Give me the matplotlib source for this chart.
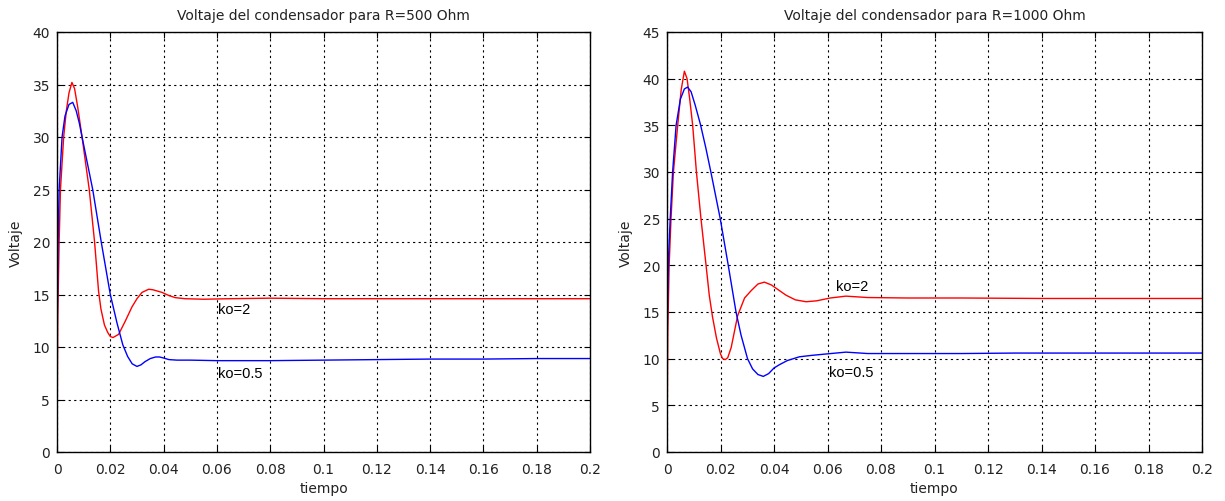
import matplotlib
matplotlib.use("Agg")
import matplotlib.pyplot as plt

# R = 500 Ohm, ko = 2 (red)
t_500_ko2 = [0, 0.0003, 0.0008, 0.0013, 0.0025, 0.0035, 0.0045, 0.0056, 0.0066, 0.0078,
             0.0094, 0.0108, 0.0121, 0.0131, 0.0141, 0.0149, 0.0156, 0.0165, 0.0178, 0.0190,
             0.0200, 0.0210, 0.0231, 0.0255, 0.0281, 0.0300, 0.0319, 0.0344, 0.0360, 0.0394,
             0.0420, 0.0444, 0.0480, 0.0550, 0.0650, 0.08, 0.1, 0.12, 0.15, 0.2]
v_500_ko2 = [0, 13, 20, 25, 30, 32.5, 34.2, 35.2, 34.6, 32.8,
             30, 27.4, 25, 22.5, 20, 17.5, 15.3, 13.6, 12.1, 11.4,
             11.0, 10.9, 11.2, 12.4, 13.8, 14.6, 15.2, 15.5, 15.45, 15.2,
             14.9, 14.7, 14.6, 14.55, 14.6, 14.65, 14.6, 14.6, 14.6, 14.6]

# R = 500 Ohm, ko = 0.5 (blue)
t_500_ko05 = [0, 0.0002, 0.0004, 0.0008, 0.0019, 0.0030, 0.0045, 0.0059, 0.0072, 0.0084,
              0.0094, 0.0114, 0.0134, 0.0150, 0.0166, 0.0183, 0.0200, 0.0225, 0.0247, 0.0265,
              0.0282, 0.0300, 0.0315, 0.0330, 0.0350, 0.0370, 0.0385, 0.0400, 0.0420, 0.0450,
              0.0500, 0.060, 0.08, 0.1, 0.12, 0.14, 0.16, 0.18, 0.2]
v_500_ko05 = [8, 15, 20, 25, 30, 32, 33.1, 33.3, 32.5, 31.3,
              30, 27.5, 25, 22.5, 20, 17.5, 15, 12.3, 10.2, 9.1,
              8.4, 8.15, 8.3, 8.6, 8.9, 9.05, 9.05, 8.95, 8.8, 8.75,
              8.75, 8.7, 8.7, 8.75, 8.8, 8.85, 8.85, 8.9, 8.9]

# R = 1000 Ohm, ko = 2 (red)
t_1000_ko2 = [0, 0.0003, 0.0008, 0.0015, 0.0024, 0.0040, 0.0053, 0.0065, 0.0075, 0.0085,
              0.0096, 0.0110, 0.0127, 0.0146, 0.0158, 0.0170, 0.0185, 0.0200, 0.0208, 0.0218,
              0.0227, 0.0240, 0.0264, 0.0290, 0.0315, 0.0340, 0.0364, 0.0390, 0.0420, 0.0445,
              0.0480, 0.0520, 0.0560, 0.0610, 0.0669, 0.075, 0.09, 0.11, 0.14, 0.17, 0.2]
v_1000_ko2 = [0, 13, 20, 25, 30, 35, 38.8, 40.8, 40.0, 37.8,
              35, 30, 25, 20, 16.8, 14.5, 12.2, 10.5, 10.0, 9.9,
              10.1, 11.2, 14.6, 16.5, 17.3, 18.0, 18.2, 17.9, 17.3, 16.8,
              16.3, 16.1, 16.2, 16.5, 16.7, 16.55, 16.5, 16.5, 16.45, 16.45, 16.45]

# R = 1000 Ohm, ko = 0.5 (blue)
t_1000_ko05 = [0, 0.0002, 0.0006, 0.0012, 0.0021, 0.0034, 0.0050, 0.0065, 0.0077, 0.0090,
               0.0105, 0.0125, 0.0145, 0.0164, 0.0199, 0.0229, 0.0258, 0.0277, 0.0301, 0.0320,
               0.0340, 0.0360, 0.0380, 0.0400, 0.0420, 0.0450, 0.0495, 0.0540, 0.0594, 0.0669,
               0.075, 0.09, 0.11, 0.13, 0.15, 0.17, 0.2]
v_1000_ko05 = [8.2, 16, 21, 25, 30, 35, 37.8, 38.9, 39.1, 38.6,
               37.2, 35.1, 32.6, 30, 25, 20, 15, 12.5, 10, 8.9,
               8.3, 8.1, 8.4, 9.0, 9.35, 9.8, 10.2, 10.35, 10.5, 10.7,
               10.55, 10.55, 10.55, 10.6, 10.6, 10.6, 10.6]

x_ticks = [0, 0.02, 0.04, 0.06, 0.08, 0.1, 0.12, 0.14, 0.16, 0.18, 0.2]
x_tick_labels = ["0", "0.02", "0.04", "0.06", "0.08", "0.1", "0.12", "0.14", "0.16", "0.18", "0.2"]

plt.rcParams['font.family'] = ['DejaVu Sans']

fig = plt.figure(figsize=(12.25, 5.02), dpi=100)
ax1 = fig.add_axes([57 / 1225, 1 - 453 / 502, 533 / 1225, 420 / 502])
ax2 = fig.add_axes([667 / 1225, 1 - 453 / 502, 535 / 1225, 420 / 502])


def style_axes(ax, title, ymax):
    ax.set_xlim(0, 0.2)
    ax.set_ylim(0, ymax)
    ax.set_xticks(x_ticks)
    ax.set_xticklabels(x_tick_labels)
    ax.set_yticks(range(0, ymax + 1, 5))
    ax.grid(True, color='black', linestyle=(0, (2, 3)), linewidth=0.8)
    ax.tick_params(direction='in', length=4, top=True, right=True, labelsize=10, pad=5,
                   labelcolor='#222222')
    ax.tick_params(axis='x', pad=7)
    for s in ax.spines.values():
        s.set_linewidth(1.0)
    ax.set_title(title, fontsize=10, pad=9, color='#222222')
    ax.set_xlabel("tiempo", fontsize=10, labelpad=4, color='#222222')
    ax.set_ylabel("Voltaje", fontsize=10, labelpad=7, color='#222222')


ax1.plot(t_500_ko2, v_500_ko2, color='#ff0000', lw=1.0)
ax1.plot(t_500_ko05, v_500_ko05, color='#0000ff', lw=1.0)
ax1.text(0.0605, 13.6, "ko=2", fontsize=10.5, va='center', family='Liberation Sans')
ax1.text(0.0605, 7.5, "ko=0.5", fontsize=10.5, va='center', family='Liberation Sans')
style_axes(ax1, "Voltaje del condensador para R=500 Ohm", 40)

ax2.plot(t_1000_ko2, v_1000_ko2, color='#ff0000', lw=1.0)
ax2.plot(t_1000_ko05, v_1000_ko05, color='#0000ff', lw=1.0)
ax2.text(0.063, 17.8, "ko=2", fontsize=10.5, va='center', family='Liberation Sans')
ax2.text(0.0607, 8.6, "ko=0.5", fontsize=10.5, va='center', family='Liberation Sans')
style_axes(ax2, "Voltaje del condensador para R=1000 Ohm", 45)

fig.savefig("out.png", dpi=100)
plt.close()
